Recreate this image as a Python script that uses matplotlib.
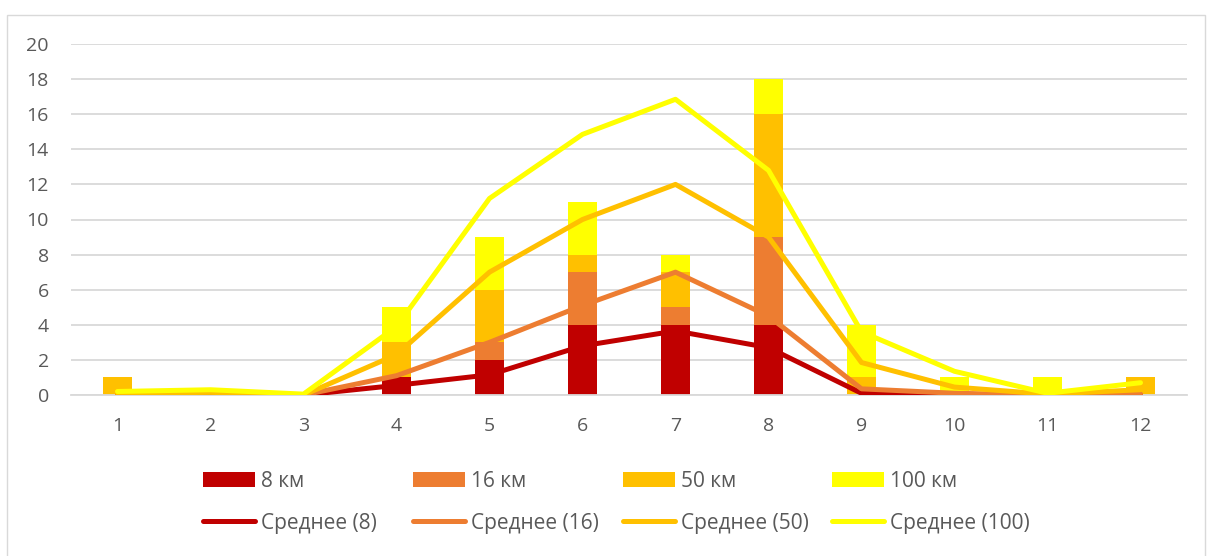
import matplotlib
matplotlib.use("Agg")
import matplotlib.pyplot as plt
from matplotlib.patches import Rectangle
import numpy as np

plt.rcParams['font.family'] = ['Open Sans', 'DejaVu Sans']

months = [1, 2, 3, 4, 5, 6, 7, 8, 9, 10, 11, 12]

# Counts per month by distance band (stacked)
km8 = [0, 0, 0, 1, 2, 4, 4, 4, 0, 0, 0, 0]
km16 = [0, 0, 0, 0, 1, 3, 1, 5, 0, 0, 0, 0]
km50 = [1, 0, 0, 2, 3, 1, 2, 7, 1, 0, 0, 1]
km100 = [0, 0, 0, 2, 3, 3, 1, 2, 3, 1, 1, 0]

# Cumulative averages per distance band
avg8 = [0, 0, 0, 0.55, 1.15, 2.8, 3.65, 2.7, 0.1, 0, 0, 0]
avg16 = [0, 0, 0, 1.1, 3.0, 5.1, 7.0, 4.5, 0.35, 0.1, 0, 0.05]
avg50 = [0.1, 0.15, 0, 2.3, 7.0, 10.0, 12.0, 9.0, 1.85, 0.45, 0.05, 0.3]
avg100 = [0.2, 0.3, 0.05, 3.9, 11.2, 14.85, 16.85, 12.8, 3.6, 1.35, 0.1, 0.7]

bar_labels = ["8 км", "16 км", "50 км", "100 км"]
line_labels = ["Среднее (8)", "Среднее (16)", "Среднее (50)", "Среднее (100)"]
colors = ["#C00000", "#ED7D31", "#FFC000", "#FFFF00"]

W, H = 1213, 556
fig = plt.figure(figsize=(W / 100, H / 100), dpi=100)
ax = fig.add_axes([71 / W, 1 - 395 / H, (1187 - 71) / W, (395 - 44) / H])

# chart border
fig.patches.append(Rectangle((7 / W, -0.05), (1205 - 7) / W, 1 - 15 / H + 0.05,
                             transform=fig.transFigure, fill=False,
                             edgecolor="#D9D9D9", linewidth=1.0))

x = np.array(months)
bottom = np.zeros(len(months))
bar_handles = []
for vals, c, lab in zip([km8, km16, km50, km100], colors, bar_labels):
    b = ax.bar(x, vals, width=0.31, bottom=bottom, color=c, label=lab,
               linewidth=0, zorder=2)
    bar_handles.append(b)
    bottom += np.array(vals)

line_handles = []
for vals, c, lab in zip([avg8, avg16, avg50, avg100], colors, line_labels):
    l, = ax.plot(x, vals, color=c, linewidth=3.6, label=lab, zorder=3,
                 solid_joinstyle="round", solid_capstyle="round")
    line_handles.append(l)

ax.set_xlim(0.5, 12.5)
ax.set_ylim(0, 20)
ax.set_yticks(range(0, 21, 2))
ax.set_xticks(months)
ax.grid(axis="y", color="#D9D9D9", linewidth=1.3, zorder=0)
ax.set_axisbelow(True)
for s in ["top", "right", "left"]:
    ax.spines[s].set_visible(False)
ax.spines["bottom"].set_color("#D9D9D9")
ax.spines["bottom"].set_linewidth(1.3)
ax.tick_params(axis="both", length=0, colors="#595959", labelsize=14)
ax.tick_params(axis="y", pad=16)
ax.tick_params(axis="x", pad=16)

# legend: one column per distance band, equally spaced
col_left = [203, 413, 623, 832]
for b, l, bl, ll, xl in zip(bar_handles, line_handles, bar_labels, line_labels, col_left):
    leg = fig.legend([b, l], [bl, ll], ncol=1, loc="upper left",
                     bbox_to_anchor=(xl / W, 1 - 471 / H), frameon=False,
                     fontsize=15, handlelength=2.5, handleheight=0.75,
                     handletextpad=0.3, labelspacing=1.0,
                     borderpad=0, borderaxespad=0)
    for t in leg.get_texts():
        t.set_color("#595959")

fig.savefig("out.png", dpi=100)
